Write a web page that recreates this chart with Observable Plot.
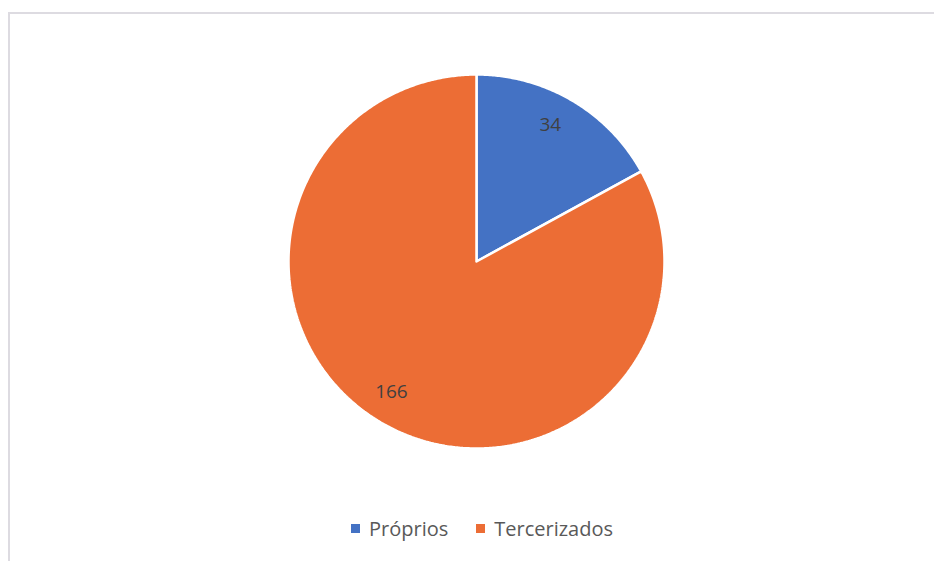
<!DOCTYPE html>
<html><head><meta charset="utf-8">
<script src="https://cdn.jsdelivr.net/npm/d3@7"></script>
<script src="https://cdn.jsdelivr.net/npm/@observablehq/plot@0.6"></script>
<style>
html,body{margin:0;padding:0;background:#fff;width:934px;height:561px;overflow:hidden;}
#frame{position:absolute;left:8px;top:12px;width:980px;height:620px;border-top:2px solid #dddbe1;border-left:2px solid #dddbe1;box-sizing:border-box;}
#chart{position:absolute;left:0;top:0;}
#legend{position:absolute;left:15px;top:515px;width:934px;display:flex;justify-content:center;}
.lg-swatches{margin:0 !important;min-height:0 !important;font-size:20px !important;}
.lg-swatch{margin-right:28px !important;}
.lg-swatch:last-child{margin-right:0 !important;}
.lg-swatch > svg{margin-right:9px !important;}
</style></head><body>
<div id="frame"></div><div id="chart"></div><div id="legend"></div>
<script>
const categories = ["Próprios", "Tercerizados"];
const values = [34, 166];
const colors = ["#4472C4", "#EC6D35"];

const data = categories.map((c, i) => ({category: c, value: values[i]}));
const arcs = d3.pie().sort(null).value(d => d.value)(data);

// polygon outlines for each slice derived from the pie angles
const slicePoints = arcs.map(a => {
  const pts = [{x: 0, y: 0, category: a.data.category}];
  const n = Math.max(2, Math.ceil((a.endAngle - a.startAngle) / (Math.PI / 360)));
  for (let k = 0; k <= n; k++) {
    const t = a.startAngle + (a.endAngle - a.startAngle) * k / n;
    pts.push({x: Math.sin(t), y: Math.cos(t), category: a.data.category});
  }
  pts.push({x: 0, y: 0, category: a.data.category});
  return pts;
});

const labels = arcs.map(a => {
  const m = (a.startAngle + a.endAngle) / 2;
  return {x: 0.83 * Math.sin(m) - 0.03, y: 0.83 * Math.cos(m) + 0.015, text: String(a.data.value)};
});

const chart = Plot.plot({
  width: 934,
  height: 500,
  marginLeft: 288,
  marginRight: 270,
  marginTop: 74,
  marginBottom: 52,
  x: {domain: [-1, 1], axis: null},
  y: {domain: [-1, 1], axis: null},
  style: {background: "transparent", fontFamily: "'Open Sans', sans-serif"},
  marks: [
    ...slicePoints.map((pts, i) => Plot.line(pts, {
      x: "x", y: "y", fill: colors[i], stroke: "white", strokeWidth: 2.5, strokeLinejoin: "miter"
    })),
    Plot.text(labels, {x: "x", y: "y", text: "text", fontSize: 19, fill: "#404040"})
  ]
});
document.getElementById("chart").appendChild(chart);

const legend = Plot.legend({
  color: {type: "ordinal", domain: categories, range: colors},
  legend: "swatches",
  swatchSize: 9,
  className: "lg",
  style: {fontFamily: "'Open Sans', sans-serif", fontSize: "20px", color: "#595959"}
});
document.getElementById("legend").appendChild(legend);
</script>
</body></html>
